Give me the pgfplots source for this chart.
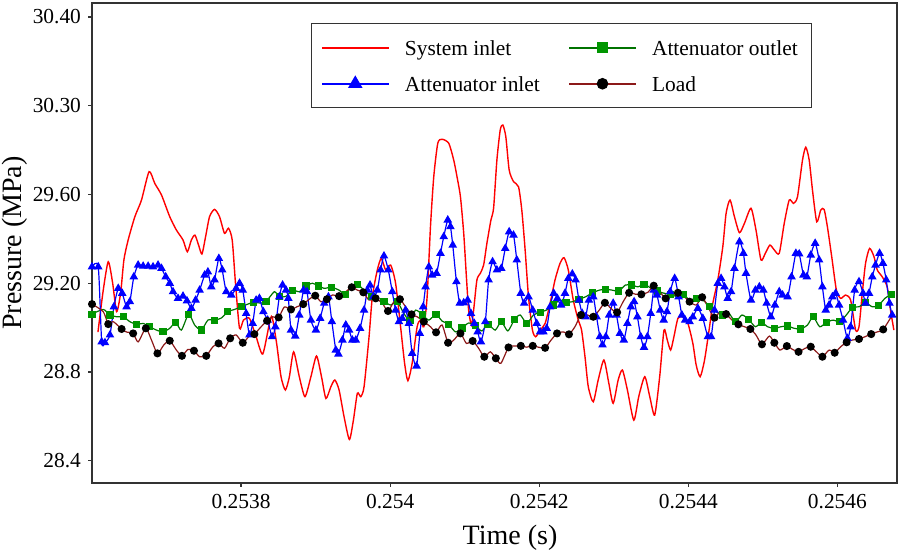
\documentclass[border=0pt]{standalone}
\usepackage{fontspec}
\setmainfont{Liberation Serif}
\usepackage{pgfplots}
\usepackage{pgfplotstable}
\pgfplotsset{compat=1.18}
\definecolor{gline}{RGB}{0,115,0}
\definecolor{gmark}{RGB}{0,150,0}
\definecolor{lline}{RGB}{140,25,25}

\pgfplotstableread{
x y
0.2536080 28.980
0.2536151 29.169
0.2536218 29.297
0.2536277 29.201
0.2536330 29.072
0.2536384 29.156
0.2536428 29.305
0.2536485 29.395
0.2536575 29.500
0.2536664 29.575
0.2536766 29.703
0.2536842 29.650
0.2536932 29.598
0.2537043 29.500
0.2537132 29.440
0.2537221 29.395
0.2537279 29.342
0.2537333 29.395
0.2537381 29.417
0.2537430 29.372
0.2537475 29.332
0.2537524 29.410
0.2537577 29.500
0.2537644 29.533
0.2537711 29.500
0.2537778 29.425
0.2537831 29.448
0.2537881 29.395
0.2537925 29.200
0.2537979 28.997
0.2538032 29.034
0.2538112 29.042
0.2538202 28.959
0.2538290 28.881
0.2538380 29.019
0.2538416 29.049
0.2538477 28.929
0.2538536 28.779
0.2538594 28.719
0.2538647 28.777
0.2538705 28.891
0.2538781 28.779
0.2538857 28.689
0.2538937 28.779
0.2539012 28.872
0.2539079 28.779
0.2539138 28.681
0.2539205 28.734
0.2539258 28.764
0.2539315 28.719
0.2539382 28.598
0.2539453 28.496
0.2539507 28.583
0.2539560 28.704
0.2539606 28.689
0.2539650 28.734
0.2539717 28.959
0.2539761 29.139
0.2539828 29.260
0.2539881 29.312
0.2539940 29.260
0.2540007 29.282
0.2540073 29.200
0.2540140 29.004
0.2540194 28.839
0.2540238 28.761
0.2540295 28.839
0.2540362 29.004
0.2540408 29.034
0.2540452 29.004
0.2540496 29.139
0.2540541 29.455
0.2540585 29.680
0.2540639 29.831
0.2540696 29.849
0.2540786 29.831
0.2540853 29.755
0.2540897 29.680
0.2540943 29.590
0.2540987 29.425
0.2541023 29.229
0.2541053 29.079
0.2541090 29.012
0.2541120 29.079
0.2541164 29.215
0.2541210 29.245
0.2541254 29.282
0.2541298 29.380
0.2541352 29.485
0.2541388 29.539
0.2541432 29.755
0.2541477 29.891
0.2541512 29.913
0.2541552 29.860
0.2541597 29.710
0.2541655 29.658
0.2541722 29.635
0.2541766 29.530
0.2541811 29.350
0.2541856 29.139
0.2541909 28.989
0.2541953 28.959
0.2542012 28.989
0.2542079 29.019
0.2542146 29.110
0.2542212 29.215
0.2542279 29.290
0.2542333 29.315
0.2542390 29.260
0.2542457 29.124
0.2542524 29.034
0.2542568 28.989
0.2542614 28.869
0.2542658 28.734
0.2542725 28.666
0.2542791 28.764
0.2542868 28.854
0.2542934 28.749
0.2542992 28.659
0.2543059 28.764
0.2543116 28.809
0.2543183 28.719
0.2543269 28.583
0.2543335 28.689
0.2543416 28.779
0.2543483 28.689
0.2543549 28.606
0.2543616 28.779
0.2543674 28.989
0.2543718 28.944
0.2543763 28.899
0.2543807 28.959
0.2543861 29.042
0.2543928 29.049
0.2543995 29.019
0.2544061 28.929
0.2544106 28.831
0.2544159 28.779
0.2544218 28.854
0.2544285 29.004
0.2544329 29.110
0.2544396 29.215
0.2544463 29.365
0.2544507 29.515
0.2544560 29.575
0.2544619 29.500
0.2544686 29.428
0.2544753 29.470
0.2544841 29.538
0.2544908 29.440
0.2544975 29.305
0.2545033 29.335
0.2545095 29.372
0.2545154 29.350
0.2545220 29.335
0.2545287 29.470
0.2545354 29.575
0.2545412 29.560
0.2545465 29.590
0.2545532 29.755
0.2545576 29.813
0.2545622 29.755
0.2545666 29.620
0.2545723 29.477
0.2545777 29.530
0.2545822 29.533
0.2545866 29.455
0.2545924 29.320
0.2545987 29.169
0.2546044 29.132
0.2546111 29.147
0.2546178 29.124
0.2546245 28.989
0.2546290 29.004
0.2546334 29.155
0.2546378 29.290
0.2546432 29.357
0.2546491 29.320
0.2546535 29.260
0.2546602 29.229
0.2546668 29.184
0.2546713 29.079
0.2546758 28.989
}\sysinlet

\pgfplotstableread{
x y
0.2536000 29.061
0.2536151 29.082
0.2536241 29.057
0.2536330 29.049
0.2536418 29.049
0.2536508 29.027
0.2536598 29.015
0.2536686 29.019
0.2536775 29.004
0.2536865 28.989
0.2536953 28.981
0.2537043 28.997
0.2537123 29.024
0.2537199 28.989
0.2537297 29.061
0.2537377 29.012
0.2537467 28.989
0.2537555 29.034
0.2537644 29.034
0.2537734 29.043
0.2537822 29.072
0.2537912 29.082
0.2538001 29.094
0.2538090 29.106
0.2538170 29.114
0.2538255 29.111
0.2538335 29.117
0.2538446 29.162
0.2538513 29.139
0.2538607 29.142
0.2538691 29.169
0.2538781 29.162
0.2538870 29.188
0.2538959 29.200
0.2539039 29.188
0.2539115 29.177
0.2539213 29.182
0.2539315 29.169
0.2539396 29.150
0.2539472 29.184
0.2539560 29.195
0.2539650 29.169
0.2539747 29.142
0.2539828 29.124
0.2539917 29.117
0.2540007 29.102
0.2540095 29.117
0.2540184 29.064
0.2540265 29.031
0.2540341 29.079
0.2540438 29.057
0.2540519 29.034
0.2540616 29.060
0.2540696 29.030
0.2540786 29.015
0.2540876 28.981
0.2540964 28.998
0.2541053 29.021
0.2541143 29.008
0.2541231 28.985
0.2541312 29.015
0.2541410 28.989
0.2541491 29.027
0.2541579 28.985
0.2541668 29.037
0.2541745 29.057
0.2541833 29.019
0.2541922 29.057
0.2542012 29.069
0.2542096 29.079
0.2542190 29.102
0.2542279 29.124
0.2542359 29.114
0.2542448 29.117
0.2542533 29.128
0.2542622 29.139
0.2542715 29.157
0.2542805 29.169
0.2542889 29.173
0.2542979 29.169
0.2543068 29.165
0.2543156 29.192
0.2543237 29.192
0.2543326 29.184
0.2543406 29.196
0.2543504 29.177
0.2543584 29.165
0.2543674 29.155
0.2543763 29.151
0.2543852 29.139
0.2543937 29.150
0.2544017 29.124
0.2544106 29.133
0.2544195 29.124
0.2544285 29.097
0.2544373 29.072
0.2544463 29.057
0.2544529 29.072
0.2544632 29.027
0.2544720 29.057
0.2544810 29.037
0.2544900 29.004
0.2544984 29.024
0.2545064 29.004
0.2545154 28.997
0.2545242 29.004
0.2545332 29.007
0.2545421 28.997
0.2545510 28.994
0.2545599 29.012
0.2545675 29.049
0.2545763 29.004
0.2545853 29.024
0.2545942 29.034
0.2546031 29.027
0.2546120 29.057
0.2546201 29.091
0.2546290 29.094
0.2546378 29.112
0.2546468 29.094
0.2546548 29.099
0.2546638 29.132
0.2546722 29.150
0.2546762 29.156
}\attoutlet

\pgfplotstableread{
x y
0.2536000 29.274
0.2536084 29.274
0.2536130 28.936
0.2536174 28.932
0.2536241 28.967
0.2536294 29.094
0.2536352 29.177
0.2536405 29.155
0.2536464 29.094
0.2536508 29.117
0.2536561 29.229
0.2536619 29.282
0.2536686 29.277
0.2536753 29.277
0.2536819 29.274
0.2536886 29.282
0.2536932 29.267
0.2536989 29.229
0.2537043 29.200
0.2537087 29.162
0.2537154 29.132
0.2537221 29.142
0.2537274 29.121
0.2537333 29.087
0.2537390 29.124
0.2537444 29.169
0.2537511 29.237
0.2537555 29.251
0.2537600 29.184
0.2537644 29.215
0.2537702 29.312
0.2537747 29.260
0.2537801 29.162
0.2537868 29.147
0.2537934 29.177
0.2537979 29.200
0.2538023 29.169
0.2538068 29.064
0.2538112 28.967
0.2538156 29.019
0.2538202 29.124
0.2538246 29.132
0.2538299 29.072
0.2538357 29.034
0.2538416 28.959
0.2538460 29.004
0.2538513 29.139
0.2538557 29.192
0.2538603 29.169
0.2538634 29.132
0.2538670 28.989
0.2538727 28.962
0.2538781 29.057
0.2538838 29.169
0.2538884 29.162
0.2538937 29.034
0.2539004 28.989
0.2539061 29.042
0.2539115 29.110
0.2539172 29.139
0.2539218 29.027
0.2539271 28.899
0.2539306 28.881
0.2539360 28.944
0.2539405 29.012
0.2539449 28.989
0.2539493 28.944
0.2539539 28.944
0.2539596 28.997
0.2539650 29.079
0.2539694 29.169
0.2539730 29.192
0.2539774 29.139
0.2539828 29.169
0.2539873 29.260
0.2539917 29.323
0.2539975 29.260
0.2540028 29.162
0.2540073 29.079
0.2540118 29.027
0.2540162 29.042
0.2540207 29.079
0.2540251 29.019
0.2540295 28.884
0.2540354 28.827
0.2540398 28.974
0.2540443 29.094
0.2540475 29.184
0.2540519 29.274
0.2540563 29.237
0.2540622 29.245
0.2540675 29.335
0.2540719 29.410
0.2540773 29.485
0.2540809 29.455
0.2540840 29.372
0.2540889 29.207
0.2540933 29.110
0.2540987 29.112
0.2541040 29.124
0.2541084 29.064
0.2541130 29.019
0.2541174 28.981
0.2541218 28.936
0.2541277 29.027
0.2541321 29.215
0.2541374 29.297
0.2541432 29.260
0.2541491 29.267
0.2541544 29.357
0.2541597 29.432
0.2541655 29.417
0.2541699 29.305
0.2541753 29.155
0.2541798 29.110
0.2541856 29.139
0.2541913 29.079
0.2541966 29.019
0.2542012 28.981
0.2542056 28.981
0.2542100 28.997
0.2542146 29.094
0.2542194 29.155
0.2542243 29.132
0.2542293 29.102
0.2542346 29.155
0.2542390 29.222
0.2542444 29.242
0.2542488 29.215
0.2542533 29.124
0.2542577 29.064
0.2542622 29.049
0.2542667 29.124
0.2542725 29.139
0.2542769 29.049
0.2542814 28.959
0.2542849 28.922
0.2542894 28.959
0.2542939 29.057
0.2542992 29.110
0.2543036 29.057
0.2543082 28.974
0.2543135 28.944
0.2543183 29.019
0.2543229 29.094
0.2543273 29.117
0.2543317 29.049
0.2543362 28.959
0.2543406 28.911
0.2543451 28.959
0.2543496 29.064
0.2543536 29.169
0.2543580 29.147
0.2543624 29.079
0.2543670 29.034
0.2543714 29.072
0.2543758 29.162
0.2543817 29.222
0.2543870 29.139
0.2543914 29.057
0.2543958 29.034
0.2544017 29.027
0.2544061 29.048
0.2544128 29.087
0.2544195 29.042
0.2544262 28.959
0.2544306 28.959
0.2544351 29.079
0.2544396 29.200
0.2544440 29.222
0.2544485 29.184
0.2544529 29.132
0.2544574 29.162
0.2544619 29.267
0.2544686 29.387
0.2544739 29.335
0.2544774 29.245
0.2544841 29.124
0.2544900 29.169
0.2544953 29.184
0.2545007 29.169
0.2545051 29.110
0.2545108 29.049
0.2545162 29.102
0.2545220 29.162
0.2545265 29.147
0.2545332 29.139
0.2545385 29.229
0.2545443 29.335
0.2545488 29.332
0.2545545 29.237
0.2545590 29.229
0.2545643 29.327
0.2545702 29.380
0.2545755 29.305
0.2545799 29.184
0.2545844 29.079
0.2545889 29.102
0.2545933 29.139
0.2545977 29.155
0.2546023 29.102
0.2546076 29.034
0.2546134 28.952
0.2546178 29.004
0.2546232 29.169
0.2546290 29.207
0.2546344 29.155
0.2546378 29.110
0.2546424 29.155
0.2546468 29.229
0.2546512 29.282
0.2546566 29.335
0.2546611 29.290
0.2546655 29.215
0.2546699 29.110
0.2546735 29.057
}\attinlet

\pgfplotstableread{
x y
0.2536000 29.106
0.2536151 29.072
0.2536218 29.016
0.2536285 29.027
0.2536397 28.994
0.2536464 28.980
0.2536552 28.974
0.2536619 28.936
0.2536722 28.997
0.2536798 28.944
0.2536878 28.884
0.2536963 28.922
0.2537043 28.941
0.2537132 28.899
0.2537207 28.873
0.2537287 28.902
0.2537368 28.896
0.2537444 28.869
0.2537533 28.873
0.2537622 28.914
0.2537698 28.929
0.2537778 28.907
0.2537854 28.952
0.2537934 28.967
0.2538023 28.932
0.2538103 28.959
0.2538179 28.971
0.2538269 29.004
0.2538349 29.031
0.2538424 29.049
0.2538504 29.046
0.2538580 29.093
0.2538670 29.082
0.2538750 29.094
0.2538834 29.106
0.2538914 29.128
0.2538995 29.144
0.2539071 29.117
0.2539151 29.128
0.2539226 29.147
0.2539315 29.142
0.2539405 29.162
0.2539485 29.182
0.2539560 29.169
0.2539640 29.159
0.2539717 29.124
0.2539806 29.132
0.2539894 29.110
0.2539971 29.075
0.2540051 29.117
0.2540131 29.128
0.2540207 29.094
0.2540287 29.060
0.2540362 29.049
0.2540452 29.027
0.2540541 29.004
0.2540616 28.979
0.2540696 29.012
0.2540777 28.932
0.2540853 28.944
0.2540943 28.974
0.2541023 28.929
0.2541107 28.940
0.2541187 28.907
0.2541263 28.869
0.2541344 28.891
0.2541418 28.862
0.2541485 28.839
0.2541588 28.911
0.2541668 28.917
0.2541753 28.918
0.2541829 28.912
0.2541913 28.918
0.2541989 28.912
0.2542079 28.909
0.2542159 28.944
0.2542239 28.974
0.2542323 28.981
0.2542399 28.970
0.2542479 29.004
0.2542560 29.057
0.2542648 29.057
0.2542725 29.049
0.2542805 29.079
0.2542881 29.112
0.2542961 29.087
0.2543045 29.069
0.2543126 29.117
0.2543206 29.157
0.2543286 29.151
0.2543370 29.150
0.2543460 29.160
0.2543536 29.189
0.2543616 29.162
0.2543696 29.132
0.2543785 29.147
0.2543861 29.157
0.2543950 29.139
0.2544017 29.117
0.2544106 29.102
0.2544186 29.137
0.2544262 29.094
0.2544351 29.045
0.2544426 29.072
0.2544507 29.061
0.2544587 29.034
0.2544672 29.015
0.2544753 29.004
0.2544833 28.994
0.2544908 28.967
0.2544988 28.925
0.2545087 28.962
0.2545154 28.932
0.2545229 28.899
0.2545322 28.917
0.2545398 28.902
0.2545479 28.891
0.2545568 28.907
0.2545643 28.914
0.2545719 28.891
0.2545799 28.869
0.2545889 28.899
0.2545964 28.887
0.2546044 28.914
0.2546124 28.934
0.2546201 28.944
0.2546290 28.949
0.2546370 28.959
0.2546454 28.971
0.2546535 28.981
0.2546615 28.992
0.2546749 29.064
}\load

\begin{document}
\begin{tikzpicture}
\begin{axis}[
  scale only axis, width=402.5pt, height=240pt,
  xmin=0.2536, xmax=0.25468, ymin=28.30, ymax=30.463,
  xtick={0.2538,0.254,0.2542,0.2544,0.2546},
  xticklabels={0.2538,0.254,0.2542,0.2544,0.2546},
  ytick={28.4,28.8,29.2,29.6,30.0,30.4},
  yticklabels={28.4,28.8,29.20,29.60,30.30,30.40},
  xtick pos=bottom, ytick pos=left,
  tick align=outside, major tick length=2pt,
  tick style={black!80, line width=0.6pt},
  axis line style={black!80, line width=0.6pt},
  tick label style={font=\fontsize{10.7}{12}\selectfont},
  xlabel={Time (s)}, ylabel={Pressure (MPa)},
  label style={font=\fontsize{14}{16}\selectfont},
  xlabel style={at={(axis description cs:0.5193,-0.1146)}, anchor=center},
  ylabel style={at={(axis description cs:-0.0957,0.5)}, anchor=center},
  legend columns=2,
  legend cell align=left,
  legend style={at={(axis description cs:0.272,0.958)}, anchor=north west,
    draw=black!80, line width=0.6pt,
    font=\fontsize{10.7}{12}\selectfont,
    inner xsep=5pt, inner ysep=5pt, row sep=4pt,
    nodes={text height=9pt, text depth=1pt, inner ysep=2pt},
    /tikz/every odd column/.append style={column sep=6pt},
    /tikz/every even column/.append style={column sep=12.5pt}},
]
\addplot[red, line width=0.7pt, smooth, tension=0.4, mark=none,
  legend image code/.code={\fill[fill=red] (0cm,-0.27pt) rectangle (1.16cm,0.27pt);}]
  table[x=x,y=y] {\sysinlet};
\addlegendentry{System inlet}
\addplot[gline, line width=0.6pt, smooth, tension=0.4, mark=square*, mark size=1.5pt, mark repeat=2, mark options={fill=gmark, draw=gmark, solid},
  legend image code/.code={\fill[fill=gline] (0cm,-0.27pt) rectangle (1.16cm,0.27pt);
    \path[mark=square*, mark size=2.5pt, mark options={fill=gmark, draw=gmark, solid}] plot coordinates {(0.58cm,0cm)};}]
  table[x=x,y=y] {\attoutlet};
\addlegendentry{Attenuator outlet}
\addplot[blue, line width=0.6pt, smooth, tension=0.4, mark=triangle*, mark size=1.9pt, mark options={fill=blue, draw=blue, solid},
  legend image code/.code={\fill[fill=blue] (0cm,-0.27pt) rectangle (1.16cm,0.27pt);
    \path[mark=triangle*, mark size=3.6pt, mark options={fill=blue, draw=blue, solid}] plot coordinates {(0.58cm,0cm)};}]
  table[x=x,y=y] {\attinlet};
\addlegendentry{Attenuator inlet}
\addplot[lline, line width=0.6pt, smooth, tension=0.4, mark=*, mark size=1.7pt, mark repeat=2, mark options={fill=black, draw=black, solid},
  legend image code/.code={\fill[fill=lline] (0cm,-0.27pt) rectangle (1.16cm,0.27pt);
    \path[mark=*, mark size=2.6pt, mark options={fill=black, draw=black, solid}] plot coordinates {(0.58cm,0cm)};}]
  table[x=x,y=y] {\load};
\addlegendentry{Load}
\end{axis}
\pgfresetboundingbox
\path[use as bounding box] ([shift={(-46pt,-35pt)}]current axis.south west) rectangle ([shift={(0.5pt,1.5pt)}]current axis.north east);
\end{tikzpicture}
\end{document}
